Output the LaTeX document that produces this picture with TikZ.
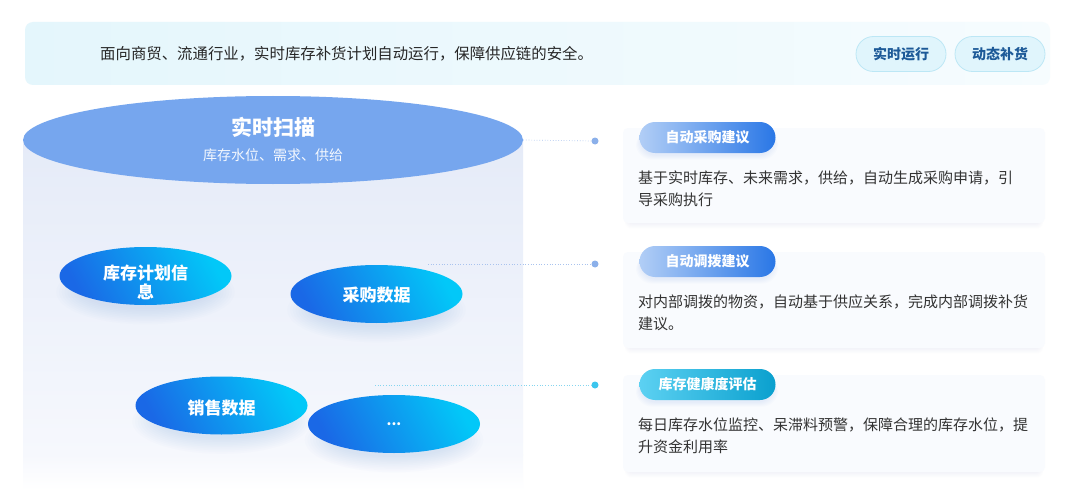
\documentclass[tikz,border=0pt]{standalone}
\usepackage{fontspec}
\setmainfont{Noto Sans CJK SC}
\usetikzlibrary{shapes.geometric}
\definecolor{bannerL}{HTML}{E4F6FC}
\definecolor{bannerR}{HTML}{F6FCFE}
\definecolor{pillfill}{HTML}{E0F5FC}
\definecolor{pilldraw}{HTML}{BCE7F5}
\definecolor{pilltext}{HTML}{1D5A98}
\definecolor{cylT}{HTML}{E5EBF8}
\definecolor{cylB}{HTML}{F6F8FD}
\definecolor{cyltop}{HTML}{76A6EE}
\definecolor{eblue}{HTML}{1A68E6}
\definecolor{ecyan}{HTML}{02C8F8}
\definecolor{shadowc}{HTML}{9AB8EE}
\definecolor{cardfill}{HTML}{F9FBFE}
\definecolor{cardshadow}{HTML}{D2DCF0}
\definecolor{bL}{HTML}{B1CEF6}
\definecolor{bR}{HTML}{2A77E6}
\definecolor{cL}{HTML}{5CD1F2}
\definecolor{cR}{HTML}{0AA0CE}
\definecolor{linec}{HTML}{A9C3EE}
\definecolor{linecy}{HTML}{86D5EF}
\definecolor{dotc}{HTML}{8BB0EA}
\definecolor{dotcy}{HTML}{3CC6EE}
\definecolor{bodytext}{HTML}{333333}
\tikzset{
  pill/.style={draw=pilldraw, line width=0.8pt, fill=pillfill, rounded corners=17.5pt,
    minimum width=90pt, minimum height=35pt, inner sep=0pt, text=pilltext,
    font=\bfseries\fontsize{14}{16}\selectfont},
  blob/.style={ellipse, inner sep=0pt, minimum width=172pt, minimum height=58pt,
    left color=eblue, right color=ecyan, shading angle=118},
  blobtext/.style={text=white, font=\bfseries\fontsize{17}{19}\selectfont, align=center},
  badge/.style={rounded corners=15.5pt, minimum width=136pt, minimum height=31pt,
    inner sep=0pt, text=white, font=\bfseries\fontsize{14}{16}\selectfont},
  desc/.style={anchor=west, align=left, text=bodytext, inner sep=0pt,
    font=\fontsize{15}{22}\selectfont},
  conn/.style={draw=linec, dotted, line width=0.7pt},
  dot/.style={circle, fill=dotc, inner sep=0pt, minimum size=7pt},
}
\begin{document}
\begin{tikzpicture}[x=1pt,y=-1pt]
\useasboundingbox (0,0) rectangle (1080,495);
\fill[white] (0,0) rectangle (1080,495);

% banner
\shade[left color=bannerL, right color=bannerR, rounded corners=8pt] (25,22) rectangle (1050,85);
\node[anchor=west, inner sep=0pt, text=black!85, font=\fontsize{15.4}{17}\selectfont] (intro) at (100,54)
  {面向商贸、流通行业，实时库存补货计划自动运行，保障供应链的安全。};
\node[pill] (p1) at (901,54) {实时运行};
\node[pill] (p2) at (1000,54) {动态补货};

% cylinder
\shade[top color=cylT, bottom color=cylB] (23,140) rectangle (523,455);
\shade[top color=cylB, bottom color=white] (23,454.5) rectangle (523,490);
\node[ellipse, fill=cyltop, minimum width=500pt, minimum height=88pt, inner sep=0pt] (top) at (273,140) {};
\node[text=white, font=\bfseries\fontsize{21}{24}\selectfont, inner sep=0pt] (ttl) at (273,127) {实时扫描};
\node[text=white!92!cyltop, font=\fontsize{14}{16}\selectfont, inner sep=0pt] (sub) at (273,155) {库存水位、需求、供给};

% connectors
\node[dot] (d1) at (595,141) {};
\node[dot] (d2) at (595,264) {};
\node[dot, fill=dotcy] (d3) at (595,385) {};
\coordinate (c2) at (428,264);
\coordinate (c3) at (375,385);
\draw[conn] (top.east) -- (d1);
\draw[conn] (c2) -- (d2);
\draw[conn, draw=linecy] (c3) -- (d3);

% blob shadows
\foreach \cx/\cy in {145.5/276, 376.5/294, 221.5/405.5, 394/424}{
  \foreach \k in {0,...,9}{
    \fill[shadowc, opacity=0.03] (\cx,\cy+16) ellipse [x radius={(64+2.8*\k)*1pt}, y radius={(17+1.7*\k)*1pt}];
  }
}

% blobs
\node[blob] (b1) at (145.5,276) {};
\node[blobtext] (t1) at (145.5,282.5) {库存计划信\\息};
\node[blob] (b2) at (376.5,294) {};
\node[blobtext] (t2) at (376.5,295) {采购数据};
\node[blob] (b3) at (221.5,405.5) {};
\node[blobtext] (t3) at (221.5,408) {销售数据};
\node[blob] (b4) at (394,424) {};
\node[blobtext, font=\bfseries\fontsize{14}{16}\selectfont] (t4) at (394,424) {...};

% cards
\foreach \ya/\yb in {128/223, 252/348, 375/472}{
  \foreach \k in {1,...,6}{
    \fill[cardshadow, opacity=0.04, rounded corners=6pt] (628-\k*0.5,\ya+6) rectangle (1040+\k*0.5,\yb+\k*0.9);
  }
  \fill[cardfill, rounded corners=5pt] (623,\ya) rectangle (1045,\yb);
}

% badges
\foreach \cy in {137.5, 261.5, 384.5}{
  \foreach \k in {1,...,5}{
    \fill[shadowc, opacity=0.04, rounded corners=16pt] (641-\k,\cy-12+\k) rectangle (773+\k,\cy+17+\k);
  }
}
\node[badge, left color=bL, right color=bR] (g1) at (707.5,137.5) {自动采购建议};
\node[badge, left color=bL, right color=bR] (g2) at (707.5,261.5) {自动调拨建议};
\node[badge, left color=cL, right color=cR] (g3) at (707.5,384.5) {库存健康度评估};

% descriptions
\node[desc] (x1) at (638,189) {基于实时库存、未来需求，供给，自动生成采购申请，引\\导采购执行};
\node[desc] (x2) at (638,312.5) {对内部调拨的物资，自动基于供应关系，完成内部调拨补货\\建议。};
\node[desc] (x3) at (638,435.5) {每日库存水位监控、呆滞料预警，保障合理的库存水位，提\\升资金利用率};
\end{tikzpicture}
\end{document}
